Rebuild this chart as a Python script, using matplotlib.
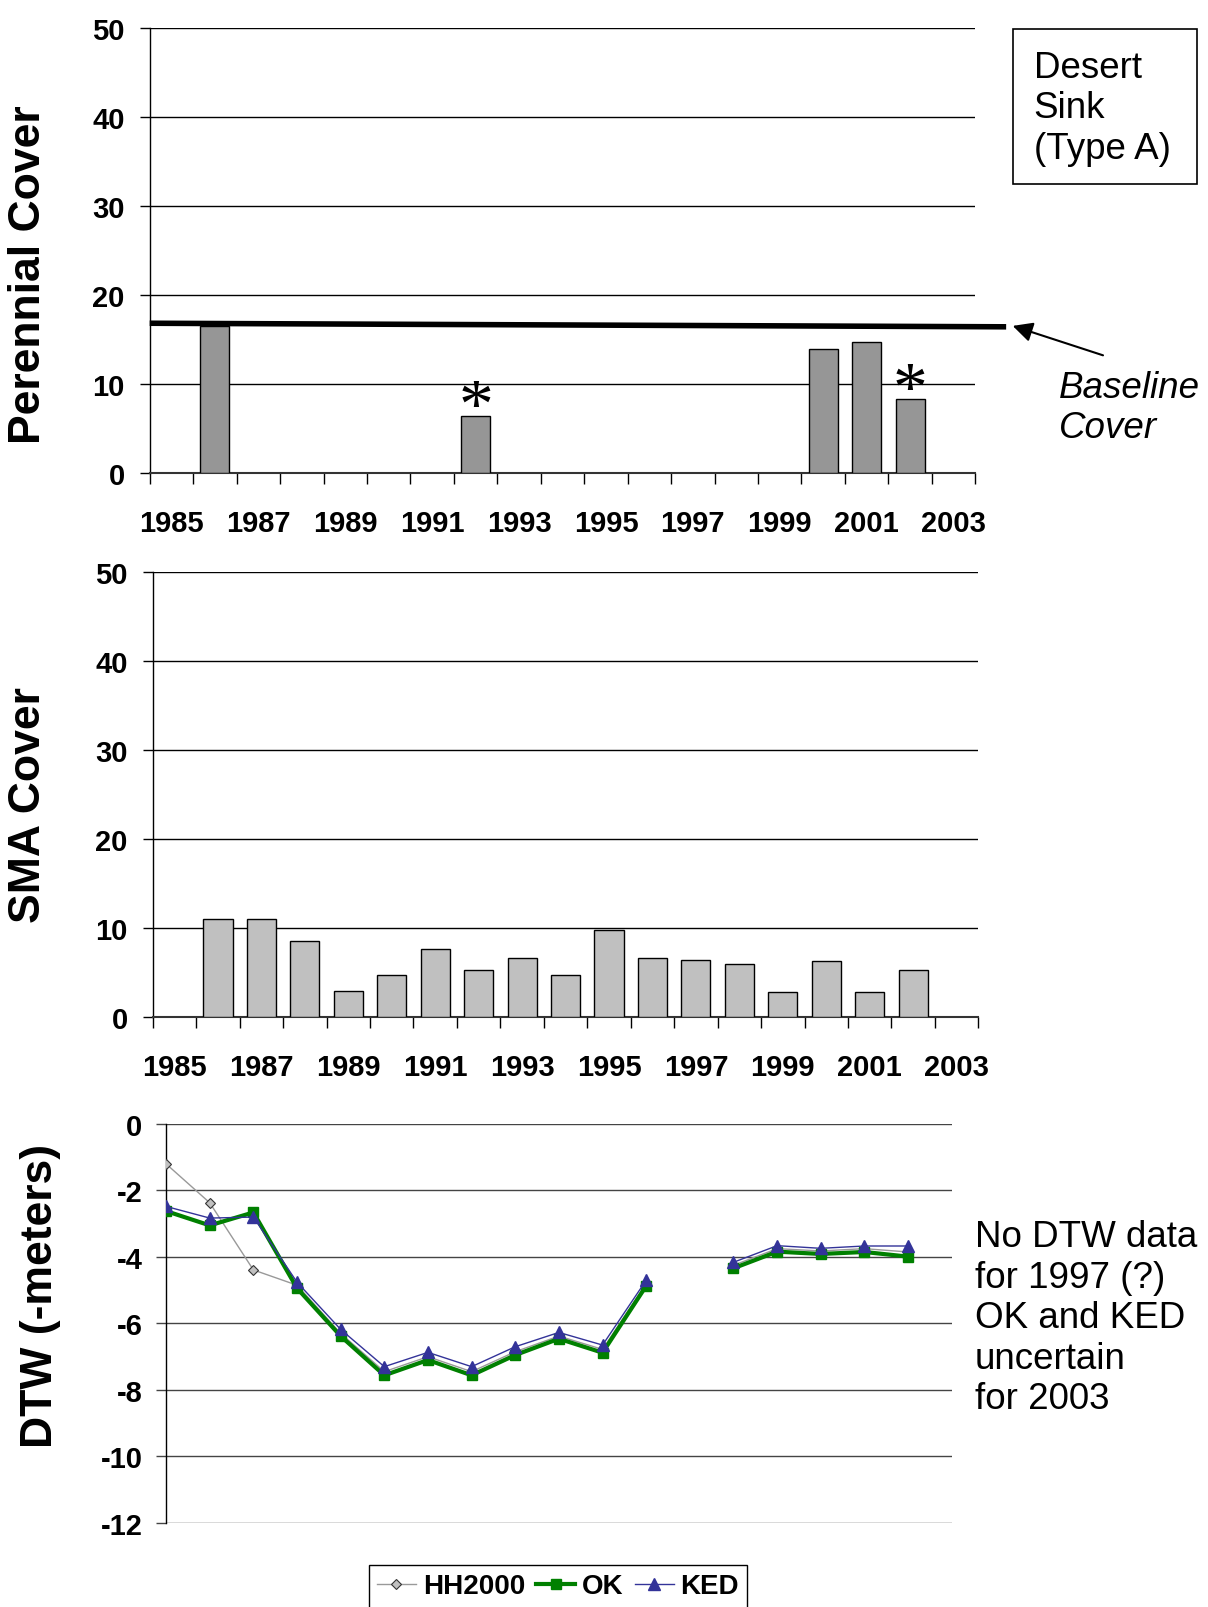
import numpy as np
import matplotlib.pyplot as plt
from matplotlib.patches import Rectangle

plt.rcParams['font.family'] = ['Liberation Sans', 'DejaVu Sans']
plt.rcParams['axes.unicode_minus'] = False

# 年 (1985-2003)
years = list(range(1985, 2004))
year_labels = [str(y) if (y - 1985) % 2 == 0 else '' for y in years]

# Perennial Cover (現地調査)
per_years = [1986, 1992, 2000, 2001, 2002]
per_cover = [16.5, 6.4, 13.9, 14.7, 8.3]
per_star = [1992, 2002]
baseline = [16.8, 16.4]   # 左端と右端

# SMA Cover
sma_years = list(range(1986, 2003))
sma_cover = [11.0, 11.0, 8.6, 3.0, 4.7, 7.7, 5.3, 6.7, 4.8, 9.85,
             6.7, 6.4, 5.95, 2.8, 6.3, 2.8, 5.3]

# DTW (-meters), 1997 と 2003 は欠測
nan = np.nan
hh2000 = [-1.2, -2.37, -4.39, -4.85, -6.3, -7.45, -7.0, -7.45, -6.85, -6.38,
          -6.78, -4.8, nan, -4.25, -3.75, -3.82, -3.75, -3.85, nan]
ok = [-2.62, -3.05, -2.66, -4.94, -6.38, -7.56, -7.10, -7.56, -6.95, -6.46,
      -6.88, -4.87, nan, -4.34, -3.84, -3.91, -3.85, -3.99, nan]
ked = [-2.48, -2.83, -2.80, -4.76, -6.18, -7.30, -6.87, -7.30, -6.70, -6.27,
       -6.65, -4.70, nan, -4.16, -3.66, -3.74, -3.67, -3.67, nan]

W, H = 1208, 1608
fig = plt.figure(figsize=(W / 100, H / 100), dpi=100)

def frac(x0, y0, x1, y1):
    # ピクセル座標 -> figure座標
    return [x0 / W, 1 - y1 / H, (x1 - x0) / W, (y1 - y0) / H]

ax1 = fig.add_axes(frac(149.7, 28.7, 975.3, 473.8))
ax2 = fig.add_axes(frac(152.8, 573.3, 978.3, 1018.3))
ax3 = fig.add_axes(frac(166.1, 1125.0, 951.7, 1523.9))

def bar_panel(ax, bx, by, color):
    idx = [years.index(y) for y in bx]
    ax.bar(idx, by, width=0.67, color=color, edgecolor='black', linewidth=1, zorder=3)
    ax.set_xlim(-0.5, len(years) - 0.5)
    ax.set_ylim(0, 50)
    ax.set_yticks(range(0, 51, 10))
    for v in range(10, 51, 10):
        ax.axhline(v, color='black', lw=1, zorder=1)
    for s in ['top', 'right']:
        ax.spines[s].set_visible(False)
    ax.spines['left'].set_linewidth(1)
    ax.spines['bottom'].set_linewidth(1.5)
    ax.spines['bottom'].set_color('#333333')
    ax.set_xticks(np.arange(-0.5, len(years), 1))
    ax.set_xticklabels([])
    ax.set_xticks(range(len(years)), minor=True)
    ax.set_xticklabels(year_labels, minor=True, fontsize=21, fontweight='bold')
    ax.tick_params(axis='x', which='major', direction='out', length=8, width=1)
    ax.tick_params(axis='x', which='minor', length=0, pad=26)
    ax.tick_params(axis='y', direction='out', length=7, width=1, pad=11,
                   labelsize=21)
    for t in ax.get_yticklabels():
        t.set_fontweight('bold')

bar_panel(ax1, per_years, per_cover, '#969696')
bar_panel(ax2, sma_years, sma_cover, '#c0c0c0')

# アスタリスク
for y in per_star:
    i = years.index(y)
    v = per_cover[per_years.index(y)]
    ax1.text(i, v + 0.7, '*', ha='center', va='center', fontsize=50,
             family='Liberation Serif', zorder=4)

# Baseline Cover の線と矢印
ax1.plot([-0.5, 19.21], baseline, color='black', lw=4, clip_on=False,
         solid_capstyle='butt', zorder=5)
ax1.annotate('', xy=(19.3, 16.6), xytext=(21.5, 13.1),
             arrowprops=dict(arrowstyle='-|>', color='black', lw=1.5,
                             mutation_scale=30),
             annotation_clip=False)
fig.text(1059 / W, 1 - 408.6 / H, 'Baseline\nCover', fontsize=26.5,
         style='italic', ha='left', va='center')

# 右上の枠
fig.patches.append(Rectangle((1013 / W, 1 - 184.6 / H), 183.8 / W, 154.9 / H,
                             transform=fig.transFigure, fill=False,
                             edgecolor='black', lw=1.2))
fig.text(1033.7 / W, 1 - 108.7 / H, 'Desert\nSink\n(Type A)', fontsize=26.5,
         ha='left', va='center')

# DTW
x = np.arange(len(years))
ax3.plot(x, hh2000, color='#999999', lw=1, marker='D', ms=5,
         mfc='#c0c0c0', mec='#333333', mew=0.8, label='HH2000', zorder=3)
ax3.plot(x, ok, color='#008000', lw=3, marker='s', ms=7,
         mfc='#008000', mec='#008000', label='OK', zorder=4)
ax3.plot(x, ked, color='#333399', lw=1, marker='^', ms=9,
         mfc='#333399', mec='#333399', label='KED', zorder=5)
ax3.set_xlim(0, len(years) - 1)
ax3.set_ylim(-12, 0)
ax3.set_yticks(range(-12, 1, 2))
for v in range(-12, 1, 2):
    ax3.axhline(v, color='#444444', lw=1, zorder=1)
for s in ['top', 'right', 'bottom']:
    ax3.spines[s].set_visible(False)
ax3.spines['left'].set_linewidth(1)
ax3.set_xticks([])
ax3.tick_params(axis='y', direction='out', length=7, width=1, pad=10,
                labelsize=21, color='#444444')
for t in ax3.get_yticklabels():
    t.set_fontweight('bold')

fig.text(975 / W, 1 - 1318.8 / H,
         'No DTW data\nfor 1997 (?)\nOK and KED\nuncertain\nfor 2003',
         fontsize=26.5, ha='left', va='center')

# 凡例
fig.legend(*ax3.get_legend_handles_labels(), loc='upper center',
           bbox_to_anchor=(558 / W, 1 - 1566 / H), ncol=3,
           fancybox=False, edgecolor='black', framealpha=1,
           handlelength=1.4, handletextpad=0.25, columnspacing=0.4,
           borderpad=0.3, borderaxespad=0, prop=dict(size=20, weight='bold'))

# 縦軸ラベル
fig.text(28.7 / W, 1 - 274.8 / H, 'Perennial Cover', rotation=90,
         fontsize=32, fontweight='bold', ha='center', va='center')
fig.text(28.7 / W, 1 - 805 / H, 'SMA Cover', rotation=90,
         fontsize=32, fontweight='bold', ha='center', va='center')
fig.text(41 / W, 1 - 1296 / H, 'DTW (-meters)', rotation=90,
         fontsize=32, fontweight='bold', ha='center', va='center')

fig.savefig('out.png', dpi=100)
